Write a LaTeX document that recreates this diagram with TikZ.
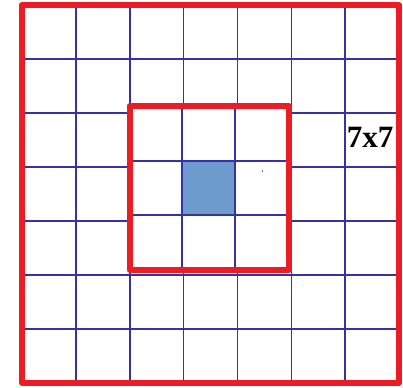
\documentclass[tikz,border=0pt]{standalone}
\usepackage{fontspec}
\setmainfont{Liberation Serif}
\definecolor{gridblue}{RGB}{52,50,165}
\definecolor{framered}{RGB}{237,28,36}
\definecolor{cellblue}{RGB}{110,155,205}
\definecolor{celledge}{RGB}{60,90,160}
\tikzset{
  gridline/.style={draw=gridblue, line width=1.6pt},
  redframe/.style={draw=framered, line width=6pt, line join=round},
}
\begin{document}
\begin{tikzpicture}[x=1pt,y=-1pt]
\useasboundingbox (0,0) rectangle (403,387);
\fill[white] (0,0) rectangle (403,387);
% outer 7x7 grid
\foreach \i in {1,...,6} {
  \draw[gridline] ({22+\i*53.86},5) -- ({22+\i*53.86},383);
  \draw[gridline] (22,{5+\i*54}) -- (399,{5+\i*54});
}
% inner 3x3 region
\fill[white] (130,106) rectangle (288,269);
\fill[cellblue, draw=celledge, line width=1.2pt] (182,161) rectangle (235,215);
\foreach \x in {182,235} \draw[gridline] (\x,106) -- (\x,269);
\foreach \y in {161,215} \draw[gridline] (130,\y) -- (288,\y);
\fill[gridblue!70] (262.5,171) ellipse (0.6 and 1.5);
% red frames
\draw[redframe] (22,5) rectangle (399,383);
\draw[redframe] (129.5,106) rectangle (288.5,269.5);
\node[font=\bfseries\fontsize{31}{31}\selectfont, inner sep=0pt] (label) at (370,137) {7x7};
\end{tikzpicture}
\end{document}
